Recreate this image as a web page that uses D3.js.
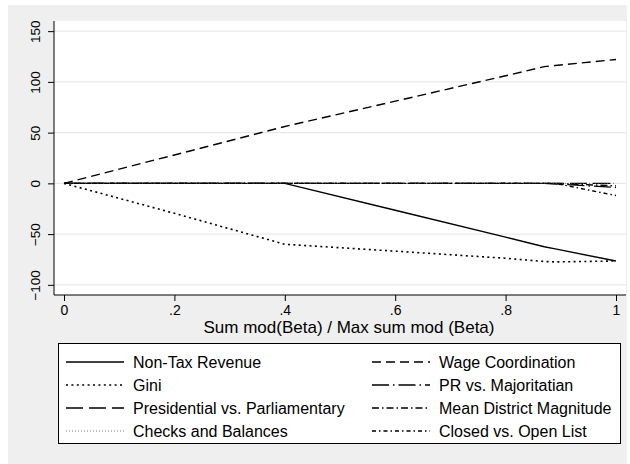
<!DOCTYPE html>
<html>
<head>
<meta charset="utf-8">
<script src="https://cdn.jsdelivr.net/npm/d3@7"></script>
<style>
  body { margin: 0; background: #fff; }
  svg { display: block; }
  text { font-family: "Liberation Sans", Arial, Helvetica, sans-serif; fill: #000; }
</style>
</head>
<body>
<svg id="chart" width="630" height="464"></svg>
<script>
// Knot positions along the path (share of the maximum sum of |beta|)
const knots = [0, 0.2, 0.4, 0.6, 0.8, 0.87, 0.89, 1.0];

// Coefficient paths, one value per knot
const nonTaxRevenue   = [0, 0, 0, -26.5, -53, -62.5, -64.6, -76.5];
const wageCoordination = [0, 28, 56, 81, 106, 115, 116.2, 122];
const gini            = [0, -29.5, -60, -66.8, -73.8, -77, -77.4, -76.5];
const prVsMajoritarian = [0, 0, 0, 0, 0, 0, -0.6, -4];
const presidential    = [0, 0, 0, 0, 0, 0, 0, 0];
const meanDistrictMag = [0, 0, 0, 0, 0, 0, 0, -2.5];
const checksBalances  = [0, 0, 0, 0, 0, 0, 0, 0];
const closedOpenList  = [0, 0, 0, 0, 0, 0, 0, -12];

const seriesNames = [
  "Non-Tax Revenue", "Wage Coordination", "Gini", "PR vs. Majoritatian",
  "Presidential vs. Parliamentary", "Mean District Magnitude",
  "Checks and Balances", "Closed vs. Open List"
];
const seriesValues = [
  nonTaxRevenue, wageCoordination, gini, prVsMajoritarian,
  presidential, meanDistrictMag, checksBalances, closedOpenList
];

const xTicks = [0, 0.2, 0.4, 0.6, 0.8, 1];
const xTickLabels = ["0", ".2", ".4", ".6", ".8", "1"];
const yTicks = [150, 100, 50, 0, -50, -100];
const xTitle = "Sum mod(Beta) / Max sum mod (Beta)";

// Line patterns for each series
const lineStyles = [
  { dash: null,          width: 1.4, color: "#000" },
  { dash: "9,5",         width: 1.4, color: "#000" },
  { dash: "2,3.4",       width: 1.6, color: "#000" },
  { dash: "17,4,1.5,4",  width: 1.4, color: "#000" },
  { dash: "17,6",        width: 1.4, color: "#000" },
  { dash: "7,3,1.5,3",   width: 1.4, color: "#000" },
  { dash: "1,2",         width: 0.8, color: "#555" },
  { dash: "4,3,1.5,3",   width: 1.4, color: "#000" }
];

const svg = d3.select("#chart");

// Outer background
svg.append("rect").attr("x", 8).attr("y", 5).attr("width", 619).attr("height", 459)
  .attr("fill", "#efefef");

// Plot region
const plot = { left: 54, right: 626, top: 21, bottom: 295 };
svg.append("rect").attr("x", plot.left).attr("y", plot.top)
  .attr("width", plot.right - plot.left).attr("height", plot.bottom - plot.top)
  .attr("fill", "#fff");

const x = d3.scaleLinear().domain([0, 1]).range([64, 616]);
const y = d3.scaleLinear().domain([-110, 160]).range([plot.bottom, plot.top]);

// Horizontal grid lines
svg.append("g").selectAll("line").data(yTicks).join("line")
  .attr("x1", plot.left).attr("x2", plot.right)
  .attr("y1", d => y(d)).attr("y2", d => y(d))
  .attr("stroke", "#e4e4e4").attr("stroke-width", 1);

// Y axis
const yAxis = svg.append("g").attr("transform", `translate(${plot.left},0)`)
  .call(d3.axisLeft(y).tickValues(yTicks).tickSize(6).tickPadding(0).tickFormat(d3.format("d")));
yAxis.select(".domain").remove();
yAxis.selectAll(".tick line").attr("stroke", "#000");
yAxis.selectAll(".tick text")
  .attr("font-size", 13.5)
  .attr("x", 0).attr("dy", 0)
  .attr("text-anchor", "middle")
  .attr("transform", "translate(-14,0) rotate(-90)");
svg.append("line").attr("x1", plot.left).attr("x2", plot.left)
  .attr("y1", plot.top).attr("y2", plot.bottom).attr("stroke", "#000");

// X axis
const xAxis = svg.append("g").attr("transform", `translate(0,${plot.bottom})`)
  .call(d3.axisBottom(x).tickValues(xTicks).tickSize(6).tickPadding(4)
    .tickFormat((d, i) => xTickLabels[i]));
xAxis.select(".domain").remove();
xAxis.selectAll(".tick line").attr("stroke", "#000");
xAxis.selectAll(".tick text").attr("font-size", 14);
svg.append("line").attr("x1", plot.left).attr("x2", plot.right)
  .attr("y1", plot.bottom).attr("y2", plot.bottom).attr("stroke", "#000");

svg.append("text").attr("x", 349).attr("y", 333)
  .attr("text-anchor", "middle").attr("font-size", 17).text(xTitle);

// Coefficient paths
const line = d3.line().x(d => x(d[0])).y(d => y(d[1]));
const paths = svg.append("g");
seriesValues.forEach((vals, i) => {
  const st = lineStyles[i];
  paths.append("path")
    .attr("d", line(knots.map((k, j) => [k, vals[j]])))
    .attr("fill", "none")
    .attr("stroke", st.color)
    .attr("stroke-width", st.width)
    .attr("stroke-dasharray", st.dash);
});

// Legend
const lg = svg.append("g");
lg.append("rect").attr("x", 58.5).attr("y", 343.5).attr("width", 562).attr("height", 100)
  .attr("fill", "#fff").attr("stroke", "#000").attr("stroke-width", 1);
const colX = [66, 372];
const rowY = [362, 385, 408, 431];
seriesNames.forEach((name, i) => {
  const col = i % 2, row = Math.floor(i / 2);
  const st = lineStyles[i];
  const lx = colX[col], ly = rowY[row];
  lg.append("line").attr("x1", lx).attr("x2", lx + 58)
    .attr("y1", ly).attr("y2", ly)
    .attr("stroke", st.color).attr("stroke-width", st.width)
    .attr("stroke-dasharray", st.dash);
  lg.append("text").attr("x", lx + 67).attr("y", ly + 5.5)
    .attr("font-size", 16).text(name);
});
</script>
</body>
</html>
